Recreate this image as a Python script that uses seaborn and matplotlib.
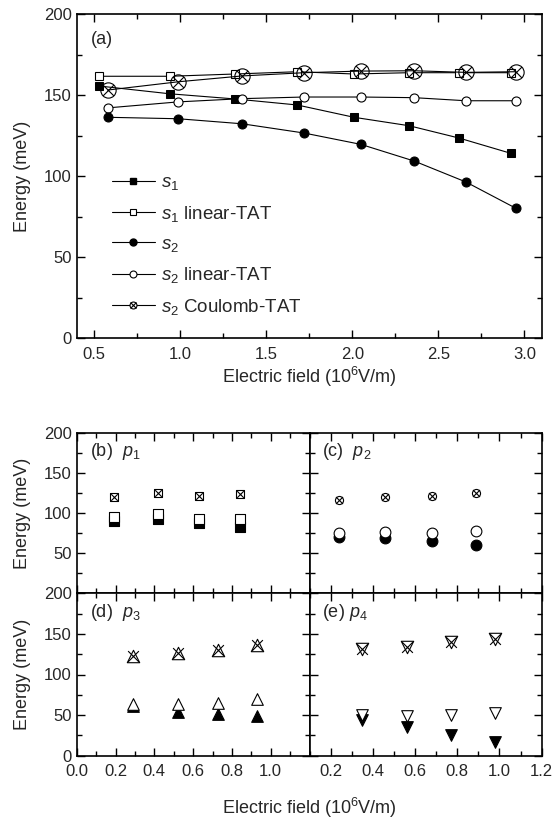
import numpy as np
import pandas as pd
import seaborn as sns
import matplotlib.pyplot as plt
from matplotlib.lines import Line2D
from matplotlib.ticker import MultipleLocator, FixedLocator

sns.set_style("ticks")
plt.rcParams['font.family'] = ['Liberation Sans', 'DejaVu Sans']
plt.rcParams['mathtext.fontset'] = 'custom'
plt.rcParams['mathtext.rm'] = 'Liberation Sans'
plt.rcParams['mathtext.it'] = 'Liberation Sans:italic'

# panel (a) data
field_s1 = [0.53, 0.94, 1.32, 1.68, 2.01, 2.33, 2.62, 2.92]
s1 = [155.6, 150.8, 147.6, 143.9, 136.3, 131.1, 123.5, 114.1]
s1_lin = [161.6, 161.6, 163.0, 164.4, 163.0, 163.8, 163.8, 163.8]
field_s2 = [0.58, 0.99, 1.36, 1.72, 2.05, 2.36, 2.66, 2.95]
s2 = [136.3, 135.4, 132.3, 126.6, 119.6, 109.3, 96.4, 80.2]
s2_lin = [142.1, 145.8, 147.8, 148.8, 148.8, 148.4, 146.5, 146.5]
s2_coul = [153.1, 158.2, 161.8, 163.8, 164.8, 165.0, 164.0, 164.4]

# panels (b)-(e): field, exact, linear-TAT, Coulomb-TAT
field_p1 = [0.19, 0.42, 0.63, 0.84]
p1 = [90.0, 92.9, 87.1, 82.2]
p1_lin = [94.6, 98.3, 92.1, 92.9]
p1_coul = [120.3, 125.3, 121.2, 124.0]

field_p2 = [0.24, 0.46, 0.68, 0.89]
p2 = [70.5, 69.3, 65.1, 60.1]
p2_lin = [75.5, 76.3, 75.5, 77.2]
p2_coul = [116.2, 120.3, 121.2, 124.5]

field_p3 = [0.29, 0.52, 0.73, 0.93]
p3 = [61.6, 54.2, 50.9, 48.9]
p3_lin = [63.7, 63.7, 64.5, 69.5]
p3_coul = [122.8, 126.1, 130.2, 136.3]

field_p4 = [0.35, 0.56, 0.77, 0.98]
p4 = [44.0, 34.9, 25.5, 17.3]
p4_lin = [50.1, 48.9, 50.1, 52.2]
p4_coul = [131.0, 134.2, 139.6, 143.3]

xlab = "Electric field (10$^{\\mathrm{6}}$V/m)"
ylab = "Energy (meV)"
TICK = 12
LAB = 13


def style(ax):
    ax.tick_params(which='both', direction='in', top=True, right=True,
                   labelsize=TICK, width=1, color='black')
    ax.tick_params(which='major', length=6)
    ax.tick_params(which='minor', length=3.5)
    ax.tick_params(axis='x', which='major', pad=6)
    for s in ax.spines.values():
        s.set_linewidth(1.2)
        s.set_color('black')


fig = plt.figure(figsize=(5.57, 8.23), dpi=100)

# ---- panel (a)
L, R = 76.7 / 557, 541.7 / 557
ax = fig.add_axes([L, 1 - 338.3 / 823, R - L, (338.3 - 14) / 823])
kw = dict(color='black', lw=0.8, ax=ax, legend=False)
sns.lineplot(x=field_s1, y=s1_lin, marker='s', ms=6, mfc='white', mec='black', mew=0.8, **kw)
sns.lineplot(x=field_s1, y=s1, marker='s', ms=6, mfc='black', mec='black', **kw)
sns.lineplot(x=field_s2, y=s2_lin, marker='o', ms=6.5, mfc='white', mec='black', mew=0.8, **kw)
sns.lineplot(x=field_s2, y=s2, marker='o', ms=6.5, mfc='black', mec='black', **kw)
sns.lineplot(x=field_s2, y=s2_coul, marker='o', ms=11, mfc='none', mec='black', mew=0.8, **kw)
sns.scatterplot(x=field_s2, y=s2_coul, marker='x', s=60, color='black', linewidth=0.8, ax=ax, zorder=5)
ax.set_xlim(0.4, 3.1)
ax.set_ylim(0, 200)
ax.xaxis.set_major_locator(FixedLocator([0.5, 1.0, 1.5, 2.0, 2.5, 3.0]))
ax.xaxis.set_minor_locator(FixedLocator(np.arange(0.75, 3.0, 0.5)))
ax.yaxis.set_major_locator(MultipleLocator(50))
ax.yaxis.set_minor_locator(MultipleLocator(25))
ax.set_xticklabels(["0.5", "1.0", "1.5", "2.0", "2.5", "3.0"])
ax.set_xlabel(xlab, fontsize=LAB, labelpad=2)
ax.set_ylabel(ylab, fontsize=LAB, labelpad=9)
style(ax)
ax.text(0.03, 0.92, "(a)", transform=ax.transAxes, fontsize=LAB, va='center')

lk = dict(color='black', lw=0.8, ms=5)
handles = [
    Line2D([], [], marker='s', mfc='black', mec='black', **lk),
    Line2D([], [], marker='s', mfc='white', mec='black', mew=0.8, **lk),
    Line2D([], [], marker='o', mfc='black', mec='black', **lk),
    Line2D([], [], marker='o', mfc='white', mec='black', mew=0.8, **lk),
    (Line2D([], [], marker='o', mfc='white', mec='black', mew=0.8, **lk),
     Line2D([], [], marker='x', ls='none', color='black', mew=0.8, ms=4)),
]
labels = ["$s_{\\mathit{1}}$", "$s_{\\mathit{1}}$ linear-TAT", "$s_{\\mathit{2}}$",
          "$s_{\\mathit{2}}$ linear-TAT", "$s_{\\mathit{2}}$ Coulomb-TAT"]
ax.legend(handles, labels, loc='lower left', bbox_to_anchor=(0.035, 0.008), frameon=False,
          fontsize=13.5, handlelength=2.3, handletextpad=0.35, labelspacing=0.62,
          numpoints=1, borderaxespad=0.6)

# ---- panels (b)-(e)
mid = 309.5 / 557
top, midy, bot = 1 - 432.7 / 823, 1 - 593.3 / 823, 1 - 755.7 / 823
hh = top - midy
axb = fig.add_axes([L, midy, mid - L, hh])
axc = fig.add_axes([mid, midy, R - mid, hh])
axd = fig.add_axes([L, bot, mid - L, midy - bot])
axe = fig.add_axes([mid, bot, R - mid, midy - bot])

panels = [
    (axb, "(b)  ", "p_{\\mathit{1}}", field_p1, p1, p1_lin, p1_coul, 's', 's', 46, 30),
    (axc, "(c)  ", "p_{\\mathit{2}}", field_p2, p2, p2_lin, p2_coul, 'o', 'o', 60, 34),
    (axd, "(d)  ", "p_{\\mathit{3}}", field_p3, p3, p3_lin, p3_coul, '^', '^', 70, 80),
    (axe, "(e) ", "p_{\\mathit{4}}", field_p4, p4, p4_lin, p4_coul, 'v', 'v', 70, 80),
]
for a, tag, pl, fx, ex, lin, coul, m, mc, sz, szc in panels:
    sns.scatterplot(x=fx, y=ex, marker=m, s=sz, color='black', edgecolor='black',
                    linewidth=0.8, ax=a, zorder=3)
    sns.scatterplot(x=fx, y=lin, marker=m, s=sz, color='white', edgecolor='black',
                    linewidth=0.8, ax=a, zorder=4)
    sns.scatterplot(x=fx, y=coul, marker=mc, s=szc, color='white', edgecolor='black',
                    linewidth=0.8, ax=a, zorder=4)
    sns.scatterplot(x=fx, y=coul, marker='x', s=szc * 0.75, color='black',
                    linewidth=0.8, ax=a, zorder=5)
    a.set_ylim(0, 200)
    a.yaxis.set_major_locator(MultipleLocator(50))
    a.yaxis.set_minor_locator(MultipleLocator(25))
    a.xaxis.set_minor_locator(MultipleLocator(0.1))
    style(a)
    a.text(0.055, 0.88, tag + "$" + pl + "$", transform=a.transAxes, fontsize=LAB, va='center')

for a in (axb, axd):
    a.set_xlim(0, 1.2)
    a.xaxis.set_major_locator(FixedLocator([0, 0.2, 0.4, 0.6, 0.8, 1.0, 1.2]))
for a in (axc, axe):
    a.set_xlim(0.1, 1.2)
    a.xaxis.set_major_locator(FixedLocator([0.2, 0.4, 0.6, 0.8, 1.0, 1.2]))
for a in (axb, axc):
    a.set_xticklabels([])

for a in (axb, axc, axd, axe):
    a.set_yticks([0, 50, 100, 150, 200])
axb.set_yticklabels(["", "50", "100", "150", "200"])
axd.set_yticklabels(["0", "50", "100", "150", "200"])
axc.set_yticklabels([])
axe.set_yticklabels([])
axd.set_xticklabels(["0.0", "0.2", "0.4", "0.6", "0.8", "1.0", ""])
axe.set_xticklabels(["0.2", "0.4", "0.6", "0.8", "1.0", "1.2"])
axb.set_ylabel(ylab, fontsize=LAB, labelpad=9)
axd.set_ylabel(ylab, fontsize=LAB, labelpad=9)
fig.text(mid, 1 - 808 / 823, xlab, fontsize=LAB, ha='center', va='center')

fig.savefig("out.png", dpi=100)
